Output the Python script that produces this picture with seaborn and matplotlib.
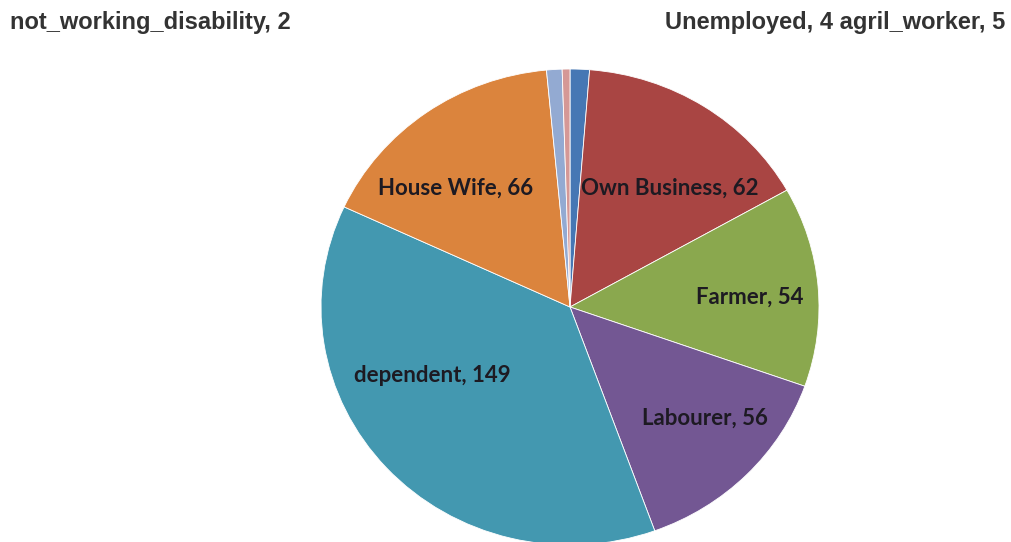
import matplotlib
matplotlib.use("Agg")
import matplotlib.pyplot as plt
import seaborn as sns
import numpy as np

# Occupation counts, clockwise from 12 o'clock
occupations = ["agril_worker", "Own Business", "Farmer", "Labourer",
               "dependent", "House Wife", "Unemployed", "not_working_disability"]
counts = [5, 62, 54, 56, 149, 66, 4, 2]
colors = ["#4677B4", "#A94543", "#8AA84E", "#735793",
          "#4398B0", "#DB843D", "#93AAD2", "#D59896"]

# Slices that get a label inside the pie, and the small ones listed along the top
inner = ["Own Business", "Farmer", "Labourer", "dependent", "House Wife"]
# per-label nudges (radius fraction, angle shift in degrees, clockwise)
label_radius = {"Own Business": 0.641, "Farmer": 0.724, "Labourer": 0.713,
                "dependent": 0.624, "House Wife": 0.68}
label_shift = {"Own Business": 6.2, "Farmer": 1.7, "Labourer": -4.0,
               "dependent": 15.2, "House Wife": -7.4}

sns.set_theme(style="white")
plt.rcParams["font.family"] = ["DejaVu Sans"]

fig = plt.figure(figsize=(10.11, 5.42), dpi=100)
W, H = 1011, 542
cx, cy, rx, ry = 570, 307, 249, 238
ax = fig.add_axes([(cx - rx) / W, (H - cy - ry) / H, 2 * rx / W, 2 * ry / H])

wedges, _ = ax.pie(counts, colors=colors, startangle=90, counterclock=False,
                   radius=1.0, wedgeprops=dict(edgecolor="white", linewidth=0.6))
ax.set_aspect("auto")
ax.set_xlim(-1, 1)
ax.set_ylim(-1, 1)
ax.axis("off")

total = sum(counts)
cum = np.cumsum([0] + counts)
for i, (name, val) in enumerate(zip(occupations, counts)):
    if name not in inner:
        continue
    mid = (cum[i] + cum[i + 1]) / 2 / total * 360 + label_shift[name]
    r = label_radius[name]
    x = r * np.sin(np.radians(mid))
    y = r * np.cos(np.radians(mid))
    ax.text(x, y, f"{name}, {val}", ha="center", va="center",
            fontsize=16, fontweight="bold", family=["Lato", "DejaVu Sans"],
            color="#1d1a22")

small = dict(zip(occupations, counts))
top_font = dict(fontsize=17, fontweight="bold", color="#333333",
                family=["Liberation Sans", "DejaVu Sans"], va="center")
fig.text(10 / W, 1 - 22 / H, f"not_working_disability, {small['not_working_disability']}",
         ha="left", **top_font)
fig.text(1005 / W, 1 - 22 / H,
         f"Unemployed, {small['Unemployed']} agril_worker, {small['agril_worker']}",
         ha="right", **top_font)

fig.savefig("out.png", dpi=100, facecolor="white")
